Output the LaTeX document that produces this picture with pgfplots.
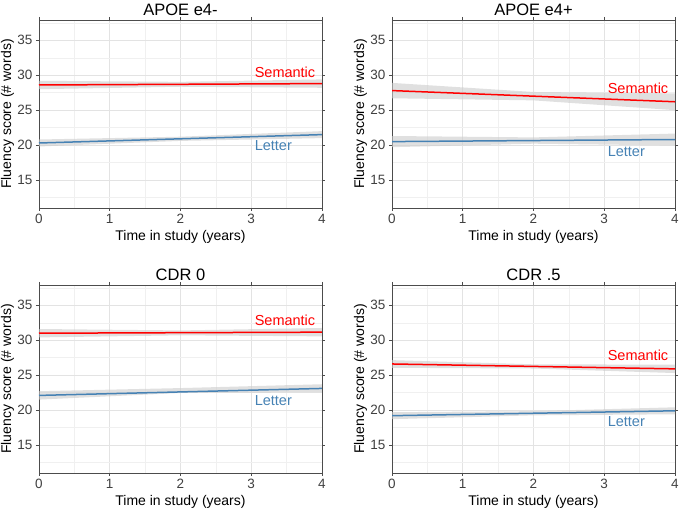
\documentclass[border=0pt]{standalone}
\usepackage{pgfplots}
\pgfplotsset{compat=1.18}
\usepackage{fontspec}
\setmainfont{Liberation Sans}
\definecolor{sem}{HTML}{FF0000}
\definecolor{let}{HTML}{4682B4}
\definecolor{band}{gray}{0.80}
\tikzset{lab/.style={anchor=west, font=\fontsize{14.5}{16}\selectfont}}
\pgfplotsset{
  panel/.style={
    scale only axis, width=283pt, height=188pt,
    xmin=0, xmax=4, ymin=11, ymax=37.9,
    xtick={0,1,2,3,4}, ytick={15,20,25,30,35},
    minor xtick={0.5,1.5,2.5,3.5}, minor ytick={12.5,17.5,22.5,27.5,32.5,37.5},
    grid=both,
    major grid style={gray!22, line width=0.6pt},
    minor grid style={gray!12, line width=0.4pt},
    axis line style={gray!60!black, line width=0.7pt},
    tick style={gray!60!black, line width=0.6pt},
    tick align=outside, major tick length=3pt, minor tick length=0pt,
    tick label style={font=\fontsize{13.5}{15}\selectfont, text=black!75},
    /pgf/number format/assume math mode=true,
    xlabel={Time in study (years)}, ylabel={Fluency score (\# words)},
    label style={font=\fontsize{14}{16}\selectfont},
    title style={font=\fontsize{16.5}{19}\selectfont, yshift=-5pt},
    xlabel style={yshift=1pt},
    ylabel style={yshift=-3.5pt},
  },
  bandst/.style={draw=none, fill=band, fill opacity=0.6, forget plot},
}
\begin{document}
\begin{tikzpicture}
\useasboundingbox (0,0) rectangle (680pt,513pt);
% Panel 1
\begin{axis}[panel, at={(39pt,305pt)}, anchor=south west, title={APOE e4-}]
\addplot[bandst] coordinates {(0,28.0)(2,28.35)(4,28.2)(4,29.4)(2,29.05)(0,29.2)} -- cycle;
\addplot[bandst] coordinates {(0,19.8)(2,20.6)(4,21.0)(4,22.0)(2,21.2)(0,20.8)} -- cycle;
\addplot[sem, line width=1.5pt] coordinates {(0,28.6)(4,28.8)};
\addplot[let, line width=1.5pt] coordinates {(0,20.3)(4,21.5)};
\node[lab, text=sem] at (axis cs:3,30.4) {Semantic};
\node[lab, text=let] at (axis cs:3,19.95) {Letter};
\end{axis}
% Panel 2
\begin{axis}[panel, at={(392pt,305pt)}, anchor=south west, title={APOE e4+}]
\addplot[bandst] coordinates {(0,26.7)(2,26.4)(4,25.0)(4,27.4)(2,27.6)(0,28.9)} -- cycle;
\addplot[bandst] coordinates {(0,19.7)(2,20.2)(4,19.95)(4,21.65)(2,21.1)(0,21.3)} -- cycle;
\addplot[sem, line width=1.5pt] coordinates {(0,27.8)(4,26.2)};
\addplot[let, line width=1.5pt] coordinates {(0,20.5)(4,20.8)};
\node[lab, text=sem] at (axis cs:3,28.1) {Semantic};
\node[lab, text=let] at (axis cs:3,19.0) {Letter};
\end{axis}
% Panel 3
\begin{axis}[panel, at={(39pt,40pt)}, anchor=south west, title={CDR 0}]
\addplot[bandst] coordinates {(0,30.4)(2,30.7)(4,30.55)(4,31.75)(2,31.4)(0,31.6)} -- cycle;
\addplot[bandst] coordinates {(0,21.5)(2,22.45)(4,22.5)(4,23.7)(2,23.15)(0,22.7)} -- cycle;
\addplot[sem, line width=1.5pt] coordinates {(0,31.0)(4,31.15)};
\addplot[let, line width=1.5pt] coordinates {(0,22.1)(4,23.1)};
\node[lab, text=sem] at (axis cs:3,32.9) {Semantic};
\node[lab, text=let] at (axis cs:3,21.4) {Letter};
\end{axis}
% Panel 4
\begin{axis}[panel, at={(392pt,40pt)}, anchor=south west, title={CDR .5}]
\addplot[bandst] coordinates {(0,26.05)(2,25.95)(4,25.3)(4,26.5)(2,26.55)(0,27.15)} -- cycle;
\addplot[bandst] coordinates {(0,18.7)(2,19.25)(4,19.4)(4,20.4)(2,19.85)(0,19.7)} -- cycle;
\addplot[sem, line width=1.5pt] coordinates {(0,26.6)(4,25.9)};
\addplot[let, line width=1.5pt] coordinates {(0,19.2)(4,19.9)};
\node[lab, text=sem] at (axis cs:3,27.86) {Semantic};
\node[lab, text=let] at (axis cs:3,18.3) {Letter};
\end{axis}
\end{tikzpicture}
\end{document}
